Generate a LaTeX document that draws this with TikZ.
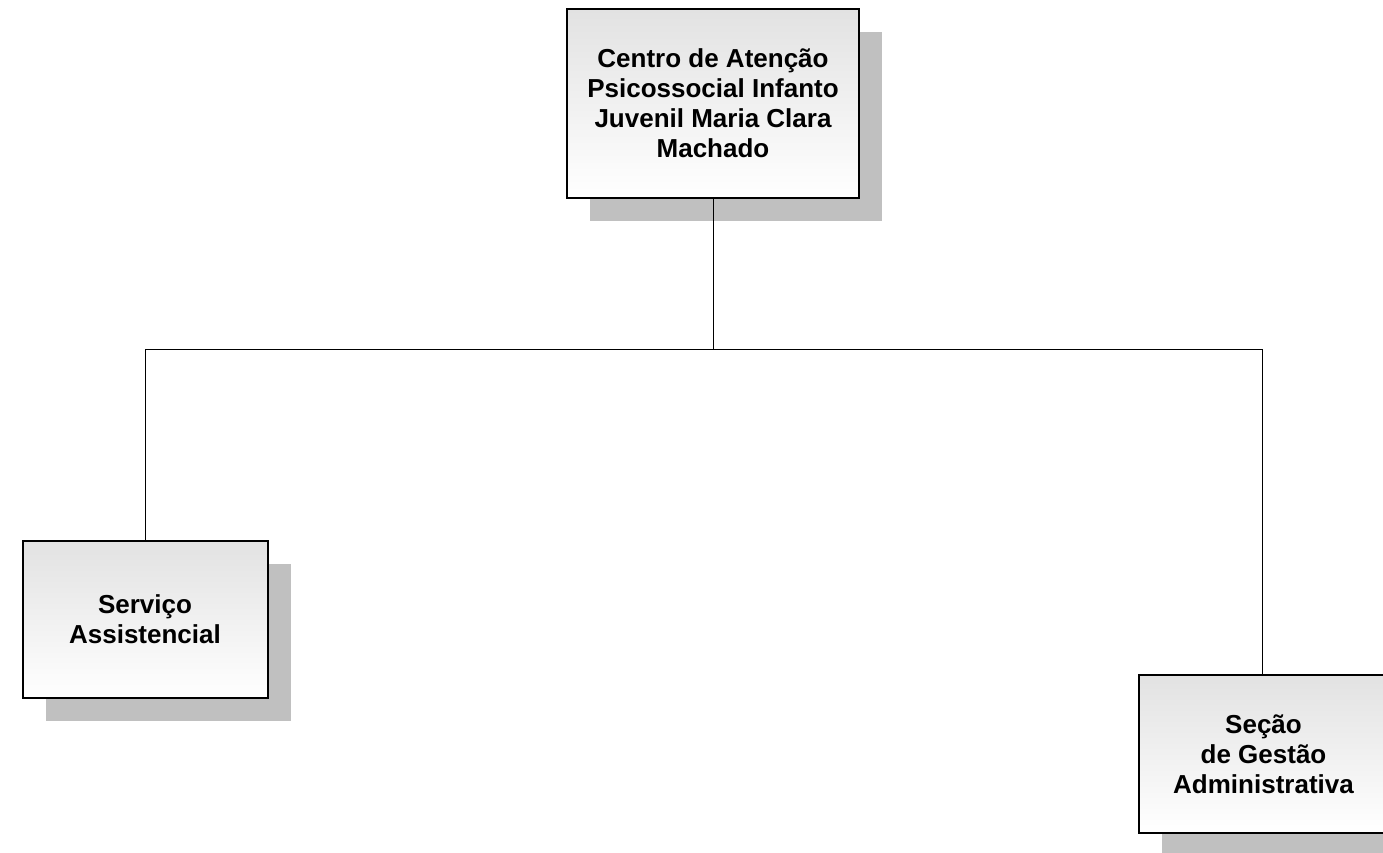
\documentclass[tikz,border=0pt]{standalone}
\usepackage{fontspec}
\setmainfont{Liberation Sans}
\usetikzlibrary{shadows}
\definecolor{shadowgray}{RGB}{192,192,192}
\definecolor{boxtop}{RGB}{226,226,226}
\tikzset{
  orgbox/.style={draw=black, line width=2pt, rectangle, align=center,
    top color=boxtop, bottom color=white,
    font=\bfseries\fontsize{26}{30}\selectfont,
    general shadow={fill=shadowgray, shadow xshift=23pt, shadow yshift=-23pt, draw=none}},
  link/.style={draw=black, line width=1pt}
}
\begin{document}
\begin{tikzpicture}[x=1pt,y=-1pt]
\useasboundingbox (0,0) rectangle (1383,852);
\node[orgbox, minimum width=292pt, minimum height=189pt] (top) at (713,103.5)
  {Centro de Atenção\\Psicossocial Infanto\\Juvenil Maria Clara\\Machado};
\node[orgbox, minimum width=245pt, minimum height=157pt] (left) at (145,619.5)
  {Serviço\\Assistencial};
\node[orgbox, minimum width=249pt, minimum height=158pt] (right) at (1263.5,754)
  {Seção\\de Gestão\\Administrativa};
\coordinate (j) at (713,349);
\draw[link] (top.south) -- (j);
\draw[link] (left.north) |- (j);
\draw[link] (j) -| ([xshift=-1.5pt]right.north);
\end{tikzpicture}
\end{document}
